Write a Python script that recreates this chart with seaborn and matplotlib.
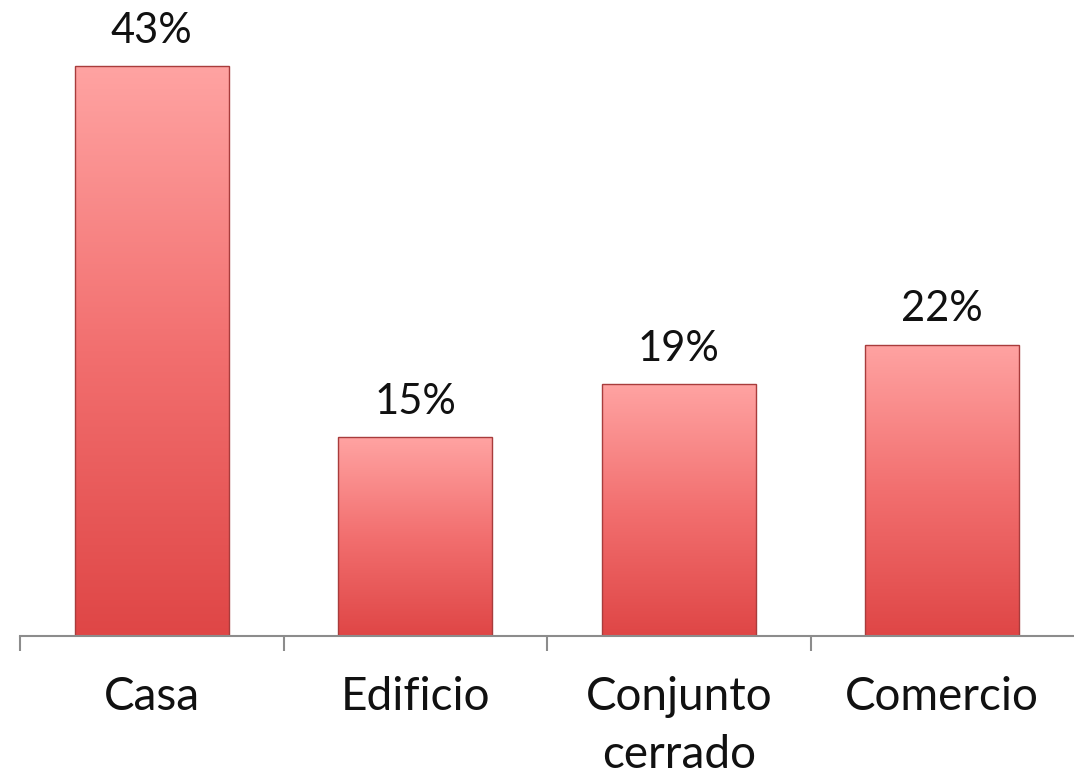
import matplotlib
matplotlib.use("Agg")
import matplotlib.pyplot as plt
from matplotlib.colors import LinearSegmentedColormap
import numpy as np
import pandas as pd
import seaborn as sns

categories = ["Casa", "Edificio", "Conjunto\ncerrado", "Comercio"]
percent = [43, 15, 19, 22]

df = pd.DataFrame({"tipo": categories, "pct": percent})

sns.set_theme(style="white")
plt.rcParams["font.family"] = ["Lato", "DejaVu Sans"]

fig = plt.figure(figsize=(10.74, 7.79), dpi=100)
ax = fig.add_axes([20 / 1074, 143 / 779, 1054 / 1074, 636 / 779])

sns.barplot(data=df, x="tipo", y="pct", order=categories, width=0.585,
            color="#e85a5a", edgecolor="#a83c3c", linewidth=1.0, ax=ax)

# vertical gradient on each bar, light pink at top to red at bottom
cmap = LinearSegmentedColormap.from_list("bar", ["#df4646", "#f26f6f", "#ffa3a2"])
grad = np.linspace(0, 1, 256).reshape(-1, 1)
for p in ax.patches:
    x0, y0 = p.get_x(), p.get_y()
    w, h = p.get_width(), p.get_height()
    im = ax.imshow(grad, cmap=cmap, aspect="auto", origin="lower",
                   extent=[x0, x0 + w, y0, y0 + h], zorder=p.get_zorder() + 0.1)
    im.set_clip_path(p)
    p.set_facecolor("none")
    p.set_zorder(p.get_zorder() + 0.2)

for p, v in zip(ax.patches, percent):
    ax.annotate(f"{v}%", (p.get_x() + p.get_width() / 2, p.get_height()),
                xytext=(0, 17), textcoords="offset points",
                ha="center", va="baseline", fontsize=30, color="#111111")

ax.set_xlim(-0.5, 3.5)
ax.set_ylim(0, 48)
ax.set_xlabel("")
ax.set_ylabel("")
ax.set_yticks([])
for s in ["top", "right", "left"]:
    ax.spines[s].set_visible(False)
ax.spines["bottom"].set_color("#8c8c8c")
ax.spines["bottom"].set_linewidth(1.5)

ax.set_xticks(range(len(categories)))
ax.set_xticklabels(categories, fontsize=33, color="#111111", linespacing=1.45)
ax.tick_params(axis="x", which="major", length=0, pad=29, bottom=True)
ax.set_xticks([-0.5, 0.5, 1.5, 2.5], minor=True)
ax.tick_params(axis="x", which="minor", length=11, width=1.5,
               color="#8c8c8c", direction="out", bottom=True)
for lbl in ax.get_xticklabels():
    lbl.set_verticalalignment("top")

fig.savefig("out.png", dpi=100)
